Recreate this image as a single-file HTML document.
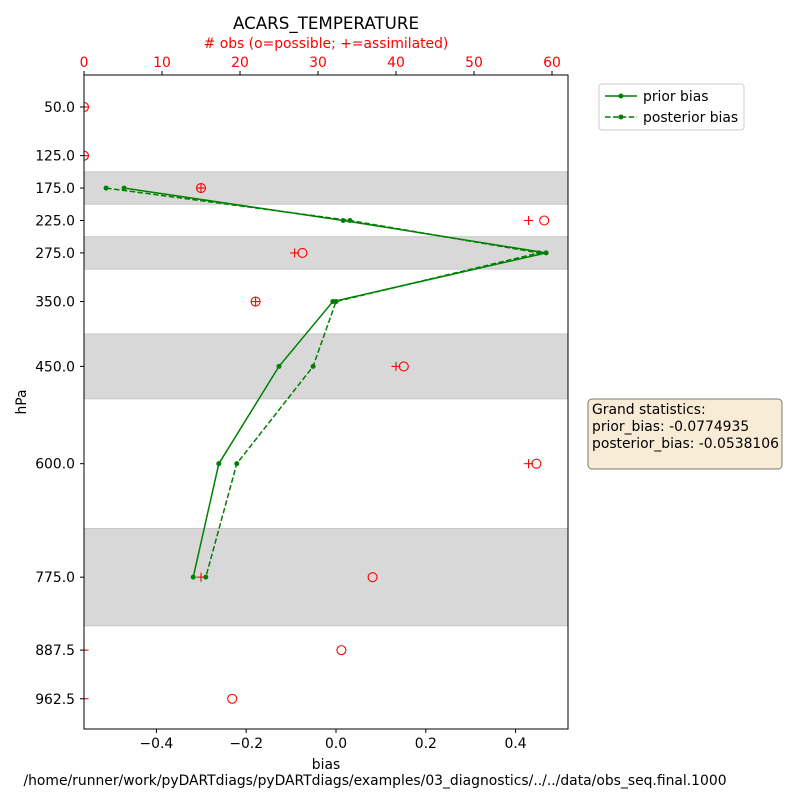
<!DOCTYPE html>
<html><head><meta charset="utf-8"><style>
body{margin:0;background:#fff;font-family:"DejaVu Sans","Liberation Sans",sans-serif;}
</style></head><body>
<svg id="c" width="800" height="800" xmlns="http://www.w3.org/2000/svg" font-family="DejaVu Sans, Liberation Sans, sans-serif"><defs><clipPath id="clip"><rect x="84" y="75" width="484" height="654"/></clipPath></defs></svg>
<script>
const levels=[50,125,175,225,275,350,450,600,775,887.5,962.5];
const priorBias=[null,null,-0.472,0.016,0.468,-0.007,-0.127,-0.261,-0.318,null,null];
const posteriorBias=[null,null,-0.512,0.031,0.452,0.0,-0.051,-0.221,-0.290,null,null];
const obsPossible=[0,0,15,59,28,22,41,58,37,33,19];
const obsAssim=[0,0,15,57,27,22,40,57,15,0,0];
const bands=[[150,200],[250,300],[400,500],[700,850]];
const xTicks=[-0.4,-0.2,0.0,0.2,0.4];
const topTicks=[0,10,20,30,40,50,60];
const L=84,R=568,T=75,B=729;
const FS=13.9;
const X=v=>336+v*449;
const Y=p=>107+(p-50)*0.6485;
const XT=n=>84+n*7.8;
const svg=document.getElementById('c');
const NS='http://www.w3.org/2000/svg';
function mk(tag,attrs,parent){const e=document.createElementNS(NS,tag);for(const k in attrs)e.setAttribute(k,attrs[k]);(parent||svg).appendChild(e);return e;}
function txt(s,attrs){const e=mk('text',attrs);e.textContent=s;return e;}
bands.forEach(b=>{const r=mk('rect',{x:L,y:Y(b[0]),width:R-L,height:Y(b[1])-Y(b[0]),fill:'#d8d8d8',stroke:'#c8c8c8'});

});
const clipG=mk('g',{'clip-path':'url(#clip)'});
function line(arr,dash,name){const pts=[];arr.forEach((v,i)=>{if(v!==null)pts.push([X(v),Y(levels[i])]);});
const g=mk('g',{},clipG);
mk('polyline',{points:pts.map(p=>p.join(',')).join(' '),fill:'none',stroke:'#008000','stroke-width':1.5,'stroke-dasharray':dash||'none'},g);
pts.forEach(p=>mk('circle',{cx:p[0],cy:p[1],r:2.5,fill:'#008000'},g));}
line(priorBias,null,'prior-bias-line');
line(posteriorBias,'5.5,2.4','posterior-bias-line');
obsPossible.forEach((n,i)=>{const c=mk('circle',{cx:XT(n),cy:Y(levels[i]),r:4.5,fill:'none',stroke:'red','stroke-width':1.1},clipG);

});
obsAssim.forEach((n,i)=>{const x=XT(n),y=Y(levels[i]);const g=mk('g',{stroke:'red','stroke-width':1.1},clipG);


mk('line',{x1:x-4.5,y1:y,x2:x+4.5,y2:y},g);mk('line',{x1:x,y1:y-4.5,x2:x,y2:y+4.5},g);});
const fr=mk('rect',{x:L,y:T,width:R-L,height:B-T,fill:'none',stroke:'#000','stroke-width':1});

xTicks.forEach(v=>{mk('line',{x1:X(v),y1:B,x2:X(v),y2:B+4,stroke:'#000'});
const t=txt(v.toFixed(1).replace('-','\u2212'),{x:X(v),y:B+19,'font-size':FS,'text-anchor':'middle'});
});
topTicks.forEach(v=>{mk('line',{x1:XT(v),y1:T,x2:XT(v),y2:T-4,stroke:'#000'});
const t=txt(String(v),{x:XT(v),y:T-8,'font-size':FS,'text-anchor':'middle',fill:'red'});
});
levels.forEach(p=>{mk('line',{x1:L,y1:Y(p),x2:L-4,y2:Y(p),stroke:'#000'});
const t=txt(p.toFixed(1),{x:L-9,y:Y(p)+5,'font-size':FS,'text-anchor':'end'});
});
</script>
<svg width="800" height="800" style="position:absolute;left:0;top:0" font-family="DejaVu Sans, Liberation Sans, sans-serif">
<text x="326" y="29" font-size="16.7" text-anchor="middle">ACARS_TEMPERATURE</text>
<text x="326" y="48" font-size="13.9" text-anchor="middle" fill="red"># obs (o=possible; +=assimilated)</text>
<text x="326" y="769" font-size="13.9" text-anchor="middle">bias</text>
<text x="26" y="402" font-size="13.9" text-anchor="middle" transform="rotate(-90 26 402)">hPa</text>
<text x="375" y="785" font-size="13.9" text-anchor="middle">/home/runner/work/pyDARTdiags/pyDARTdiags/examples/03_diagnostics/../../data/obs_seq.final.1000</text>
<g>
<rect x="599" y="84" width="145" height="46" rx="3" fill="#fff" stroke="#ccc"/>
<line x1="605" y1="96" x2="637" y2="96" stroke="#008000" stroke-width="1.5"/><circle cx="621" cy="96" r="2.5" fill="#008000"/>
<text x="643" y="101" font-size="13.9">prior bias</text>
<line x1="605" y1="117" x2="637" y2="117" stroke="#008000" stroke-width="1.5" stroke-dasharray="5.5,2.4"/><circle cx="621" cy="117" r="2.5" fill="#008000"/>
<text x="643" y="122" font-size="13.9">posterior bias</text>
</g>
<g>
<rect x="588" y="399" width="194" height="70" rx="4" fill="#f9ecd6" stroke="#777"/>
<text x="592" y="414" font-size="13.9">Grand statistics:</text>
<text x="592" y="431" font-size="13.9">prior_bias: -0.0774935</text>
<text x="592" y="448" font-size="13.9">posterior_bias: -0.0538106</text>
</g>
</svg>
</body></html>
